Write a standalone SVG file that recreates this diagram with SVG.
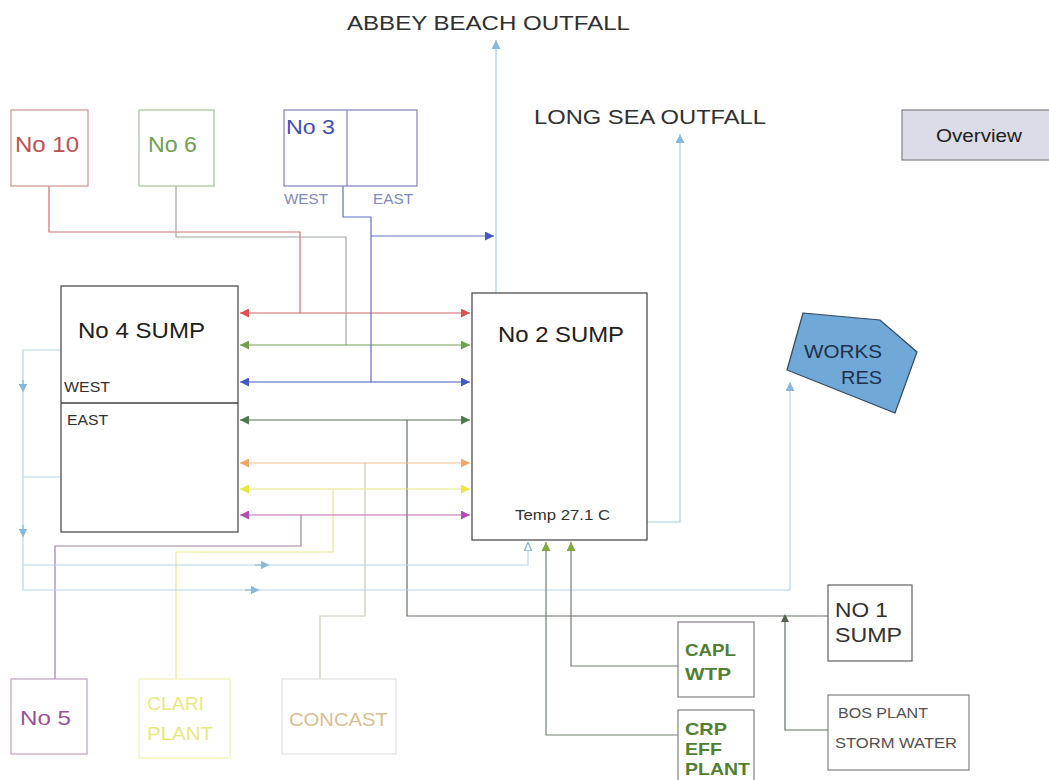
<svg xmlns="http://www.w3.org/2000/svg" width="1049" height="780" viewBox="0 0 1049 780">
<style>
text{font-family:"Liberation Sans",Arial,sans-serif}
.box{fill:#fff;stroke-width:1.2}
.ln{fill:none;stroke-width:1.2}
</style>
<defs>
<marker id="aR" viewBox="0 0 10 10" refX="10" refY="5" markerWidth="9" markerHeight="9" markerUnits="userSpaceOnUse" orient="auto-start-reverse"><path d="M0,0L10,5L0,10z" fill="#e05050"/></marker>
<marker id="aG" viewBox="0 0 10 10" refX="10" refY="5" markerWidth="9" markerHeight="9" markerUnits="userSpaceOnUse" orient="auto-start-reverse"><path d="M0,0L10,5L0,10z" fill="#70a050"/></marker>
<marker id="aB" viewBox="0 0 10 10" refX="10" refY="5" markerWidth="9" markerHeight="9" markerUnits="userSpaceOnUse" orient="auto-start-reverse"><path d="M0,0L10,5L0,10z" fill="#4058c8"/></marker>
<marker id="aD" viewBox="0 0 10 10" refX="10" refY="5" markerWidth="9" markerHeight="9" markerUnits="userSpaceOnUse" orient="auto-start-reverse"><path d="M0,0L10,5L0,10z" fill="#4a7a4a"/></marker>
<marker id="aO" viewBox="0 0 10 10" refX="10" refY="5" markerWidth="9" markerHeight="9" markerUnits="userSpaceOnUse" orient="auto-start-reverse"><path d="M0,0L10,5L0,10z" fill="#f0a868"/></marker>
<marker id="aY" viewBox="0 0 10 10" refX="10" refY="5" markerWidth="9" markerHeight="9" markerUnits="userSpaceOnUse" orient="auto-start-reverse"><path d="M0,0L10,5L0,10z" fill="#e8e840"/></marker>
<marker id="aP" viewBox="0 0 10 10" refX="10" refY="5" markerWidth="9" markerHeight="9" markerUnits="userSpaceOnUse" orient="auto-start-reverse"><path d="M0,0L10,5L0,10z" fill="#b050b0"/></marker>
<marker id="aL" viewBox="0 0 10 10" refX="5" refY="5" markerWidth="9" markerHeight="9" markerUnits="userSpaceOnUse" orient="auto"><path d="M0,0L10,5L0,10z" fill="#88b8dc"/></marker>
<marker id="aLo" viewBox="0 0 10 10" refX="10" refY="5" markerWidth="9" markerHeight="9" markerUnits="userSpaceOnUse" orient="auto"><path d="M0,1L10,5L0,9z" fill="#fff" stroke="#88b8dc" stroke-width="1.5"/></marker>
<marker id="aLe" viewBox="0 0 10 10" refX="10" refY="5" markerWidth="9" markerHeight="9" markerUnits="userSpaceOnUse" orient="auto"><path d="M0,0L10,5L0,10z" fill="#88b8dc"/></marker>
<marker id="aGu" viewBox="0 0 10 10" refX="10" refY="5" markerWidth="9" markerHeight="9" markerUnits="userSpaceOnUse" orient="auto"><path d="M0,0L10,5L0,10z" fill="#80a840"/></marker>
<marker id="aK" viewBox="0 0 10 10" refX="5" refY="5" markerWidth="8" markerHeight="8" markerUnits="userSpaceOnUse" orient="auto"><path d="M0,0L10,5L0,10z" fill="#506050"/></marker>
</defs>

<text x="347" y="30" font-size="21" fill="#303030" textLength="283" lengthAdjust="spacingAndGlyphs">ABBEY BEACH OUTFALL</text>
<text x="534" y="124" font-size="21" fill="#303030" textLength="232" lengthAdjust="spacingAndGlyphs">LONG SEA OUTFALL</text>

<g id="connectors">
<path class="ln" d="M496,293V40" stroke="#a8cce4" marker-end="url(#aLe)"/>
<path class="ln" d="M647,522H680V134" stroke="#a8cce4" marker-end="url(#aLe)"/>
<path class="ln" d="M49,186V232H300V313" stroke="#d07070"/>
<path class="ln" d="M240,313H470" stroke="#d06060" marker-start="url(#aR)" marker-end="url(#aR)"/>
<path class="ln" d="M176,186V237H346V345" stroke="#a0a8a0"/>
<path class="ln" d="M240,345H470" stroke="#70a050" marker-start="url(#aG)" marker-end="url(#aG)"/>
<path class="ln" d="M343,186V217H371V382" stroke="#6070c8"/>
<path class="ln" d="M371,236H494" stroke="#6070c8" marker-end="url(#aB)"/>
<path class="ln" d="M240,382H470" stroke="#4058c8" marker-start="url(#aB)" marker-end="url(#aB)"/>
<path class="ln" d="M240,420H470" stroke="#5a705a" marker-start="url(#aD)" marker-end="url(#aD)"/>
<path class="ln" d="M407,420V616H828" stroke="#607060"/>
<path class="ln" d="M828,730H785V618" stroke="#607060" marker-end="url(#aK)"/>
<path class="ln" d="M240,463H470" stroke="#f0c090" marker-start="url(#aO)" marker-end="url(#aO)"/>
<path class="ln" d="M365,463V616H320V679" stroke="#c8c8b8"/>
<path class="ln" d="M240,489H470" stroke="#e8e880" marker-start="url(#aY)" marker-end="url(#aY)"/>
<path class="ln" d="M333,489V552H176V679" stroke="#e8e890"/>
<path class="ln" d="M240,515H470" stroke="#b868b8" marker-start="url(#aP)" marker-end="url(#aP)"/>
<path class="ln" d="M301,515V546H55V679" stroke="#a080a0"/>
<path class="ln" d="M61,350H23V590" stroke="#b8d4e8"/>
<path class="ln" d="M23,380V388" stroke="#88b8dc" marker-end="url(#aL)"/>
<path class="ln" d="M23,525V533" stroke="#88b8dc" marker-end="url(#aL)"/>
<path class="ln" d="M61,477H23" stroke="#b8d4e8"/>
<path class="ln" d="M23,565H528V542" stroke="#b8d4e8" marker-end="url(#aLo)"/>
<path class="ln" d="M255,565H265" stroke="#88b8dc" marker-end="url(#aL)"/>
<path class="ln" d="M23,590H790V382" stroke="#b8d4e8" marker-end="url(#aLe)"/>
<path class="ln" d="M245,590H255" stroke="#88b8dc" marker-end="url(#aL)"/>
<path class="ln" d="M678,666H571V542" stroke="#708070" marker-end="url(#aGu)"/>
<path class="ln" d="M678,735H546V542" stroke="#708070" marker-end="url(#aGu)"/>
</g>

<g id="no10">
<rect class="box" x="11" y="110" width="77" height="76" stroke="#d09090"/>
<text x="15" y="152" font-size="22" fill="#c05050" textLength="64" lengthAdjust="spacingAndGlyphs">No 10</text>
</g>
<g id="no6">
<rect class="box" x="139" y="110" width="75" height="76" stroke="#a8c098"/>
<text x="148" y="152" font-size="22" fill="#70a050" textLength="49" lengthAdjust="spacingAndGlyphs">No 6</text>
</g>
<g id="no3">
<rect class="box" x="284" y="110" width="133" height="76" stroke="#8080c0"/>
<line x1="347" y1="110" x2="347" y2="186" stroke="#8080c0" stroke-width="1.2"/>
<text x="286" y="134" font-size="21" fill="#4050b0" textLength="49" lengthAdjust="spacingAndGlyphs">No 3</text>
<text x="284" y="204" font-size="14" fill="#8088c0" textLength="44" lengthAdjust="spacingAndGlyphs">WEST</text>
<text x="373" y="204" font-size="14" fill="#8088c0" textLength="40" lengthAdjust="spacingAndGlyphs">EAST</text>
</g>
<g id="overview">
<rect x="902" y="110" width="150" height="50" fill="#dcdce8" stroke="#808080" stroke-width="1.2"/>
<text x="936" y="142" font-size="18" fill="#202020" textLength="86" lengthAdjust="spacingAndGlyphs">Overview</text>
</g>
<g id="no4sump">
<rect class="box" x="61" y="286" width="177" height="246" stroke="#404040" stroke-width="1.5"/>
<line x1="61" y1="403" x2="238" y2="403" stroke="#404040" stroke-width="1.5"/>
<text x="78" y="338" font-size="22" fill="#202020" textLength="127" lengthAdjust="spacingAndGlyphs">No 4 SUMP</text>
<text x="64" y="392" font-size="14" fill="#303030" textLength="46" lengthAdjust="spacingAndGlyphs">WEST</text>
<text x="67" y="425" font-size="14" fill="#303030" textLength="41" lengthAdjust="spacingAndGlyphs">EAST</text>
</g>
<g id="no2sump">
<rect class="box" x="472" y="293" width="175" height="247" stroke="#404040" stroke-width="1.5"/>
<text x="498" y="342" font-size="22" fill="#202020" textLength="126" lengthAdjust="spacingAndGlyphs">No 2 SUMP</text>
<text x="515" y="520" font-size="15" fill="#303030" textLength="95" lengthAdjust="spacingAndGlyphs">Temp 27.1 C</text>
</g>
<g id="worksres">
<polygon points="803,313 880,320 917,352 895,413 787,370" fill="#70a8d8" stroke="#304860" stroke-width="1.2"/>
<text x="804" y="358" font-size="19" fill="#203048" textLength="78" lengthAdjust="spacingAndGlyphs">WORKS</text>
<text x="841" y="384" font-size="19" fill="#203048" textLength="41" lengthAdjust="spacingAndGlyphs">RES</text>
</g>
<g id="no1sump">
<rect class="box" x="828" y="585" width="84" height="76" stroke="#606060"/>
<text x="835" y="617" font-size="21" fill="#303030" textLength="53" lengthAdjust="spacingAndGlyphs">NO 1</text>
<text x="835" y="642" font-size="21" fill="#303030" textLength="67" lengthAdjust="spacingAndGlyphs">SUMP</text>
</g>
<g id="capl">
<rect class="box" x="678" y="622" width="76" height="75" stroke="#808080"/>
<text x="685" y="656" font-size="17" font-weight="bold" fill="#508030" textLength="51" lengthAdjust="spacingAndGlyphs">CAPL</text>
<text x="685" y="680" font-size="17" font-weight="bold" fill="#508030" textLength="46" lengthAdjust="spacingAndGlyphs">WTP</text>
</g>
<g id="crp">
<rect class="box" x="678" y="710" width="76" height="75" stroke="#808080"/>
<text x="685" y="735" font-size="17" font-weight="bold" fill="#508030" textLength="42" lengthAdjust="spacingAndGlyphs">CRP</text>
<text x="685" y="755" font-size="17" font-weight="bold" fill="#508030" textLength="37" lengthAdjust="spacingAndGlyphs">EFF</text>
<text x="685" y="775" font-size="17" font-weight="bold" fill="#508030" textLength="65" lengthAdjust="spacingAndGlyphs">PLANT</text>
</g>
<g id="bos">
<rect class="box" x="828" y="695" width="141" height="75" stroke="#808080"/>
<text x="838" y="718" font-size="14" fill="#505050" textLength="90" lengthAdjust="spacingAndGlyphs">BOS PLANT</text>
<text x="835" y="748" font-size="14" fill="#505050" textLength="122" lengthAdjust="spacingAndGlyphs">STORM WATER</text>
</g>
<g id="no5">
<rect class="box" x="11" y="679" width="76" height="75" stroke="#c0a0c0"/>
<text x="20" y="725" font-size="21" fill="#9a509a" textLength="51" lengthAdjust="spacingAndGlyphs">No 5</text>
</g>
<g id="clari">
<rect class="box" x="139" y="679" width="91" height="79" stroke="#f0f0b0"/>
<text x="147" y="710" font-size="18" fill="#e8e880" textLength="57" lengthAdjust="spacingAndGlyphs">CLARI</text>
<text x="147" y="740" font-size="18" fill="#e8e880" textLength="66" lengthAdjust="spacingAndGlyphs">PLANT</text>
</g>
<g id="concast">
<rect class="box" x="282" y="679" width="114" height="75" stroke="#e0e0e0"/>
<text x="289" y="726" font-size="18" fill="#dcbc90" textLength="99" lengthAdjust="spacingAndGlyphs">CONCAST</text>
</g>
</svg>
